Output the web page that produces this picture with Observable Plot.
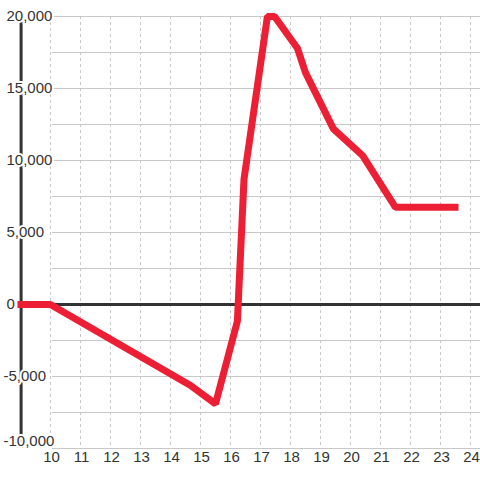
<!DOCTYPE html>
<html>
<head>
<meta charset="utf-8">
<script src="https://cdn.jsdelivr.net/npm/d3@7"></script>
<script src="https://cdn.jsdelivr.net/npm/@observablehq/plot@0.6"></script>
<style>
  html, body { margin: 0; padding: 0; background: #ffffff; }
  #chart svg { display: block; }
</style>
</head>
<body>
<div id="chart"></div>
<script>
// ---- data ----
const seriesX = [8.9, 10, 14.67, 15.5, 16.23, 16.45, 17.23, 17.47, 18.23, 18.5, 19.43, 20.4, 21.5, 23.6];
const seriesY = [0, 0, -5625, -6900, -1150, 8700, 20000, 20000, 17800, 16100, 12200, 10350, 6750, 6750];

const xTicks = [10, 11, 12, 13, 14, 15, 16, 17, 18, 19, 20, 21, 22, 23, 24];
const yTicks = [-10000, -5000, 0, 5000, 10000, 15000, 20000];
const yTickLabels = ["-10,000", "-5,000", "0", "5,000", "10,000", "15,000", "20,000"];
const yGrid = [-10000, -7500, -5000, -2500, 0, 2500, 5000, 7500, 10000, 12500, 15000, 17500, 20000];

const xDomain = [25 / 3, 73 / 3];
const yAxisAt = 9.02;
const gridStart = 10.07;

const points = seriesX.map((x, i) => ({x, y: seriesY[i]}));
const yLab = yTicks.map((v, i) => ({v, label: yTickLabels[i]}));

const font = "'Liberation Sans', Arial, sans-serif";
const labelStyle = {
  y: "v", text: "label", frameAnchor: "left", textAnchor: "start",
  fill: "#333333", stroke: "#ffffff", strokeWidth: 4, fontSize: 15
};

const chart = Plot.plot({
  width: 480,
  height: 480,
  marginTop: 16,
  marginBottom: 32,
  marginLeft: 0,
  marginRight: 0,
  style: {background: "#ffffff", fontFamily: font, overflow: "visible"},
  x: {domain: xDomain, axis: null},
  y: {domain: [-10000, 20000], axis: null},
  marks: [
    Plot.ruleX(xTicks, {x: d => d, stroke: "#c8c8c8", strokeWidth: 1, strokeDasharray: "3,3"}),
    Plot.ruleY(yGrid, {y: d => d, x1: gridStart, x2: xDomain[1], stroke: "#c8c8c8", strokeWidth: 1}),
    Plot.ruleY([0], {y: d => d, x1: yAxisAt, x2: xDomain[1], stroke: "#333333", strokeWidth: 3}),
    Plot.ruleX([yAxisAt], {x: d => d, stroke: "#333333", strokeWidth: 3}),
    Plot.text(yLab.filter(d => d.v >= 0), {...labelStyle, dx: 6}),
    Plot.text(yLab.filter(d => d.v < 0 && d.v > -10000), {...labelStyle, dx: 3}),
    Plot.text(yLab.filter(d => d.v <= -10000), {...labelStyle, dx: 3, dy: -7}),
    Plot.line(points, {
      x: "x", y: "y", stroke: "#ed1f34", strokeWidth: 7,
      strokeLinejoin: "miter", strokeLinecap: "butt", curve: "linear"
    }),
    Plot.text(xTicks, {
      x: d => d, text: d => String(d), frameAnchor: "bottom", dy: 13, dx: 1,
      fill: "#333333", fontSize: 15
    })
  ]
});

document.getElementById("chart").appendChild(chart);
</script>
</body>
</html>
